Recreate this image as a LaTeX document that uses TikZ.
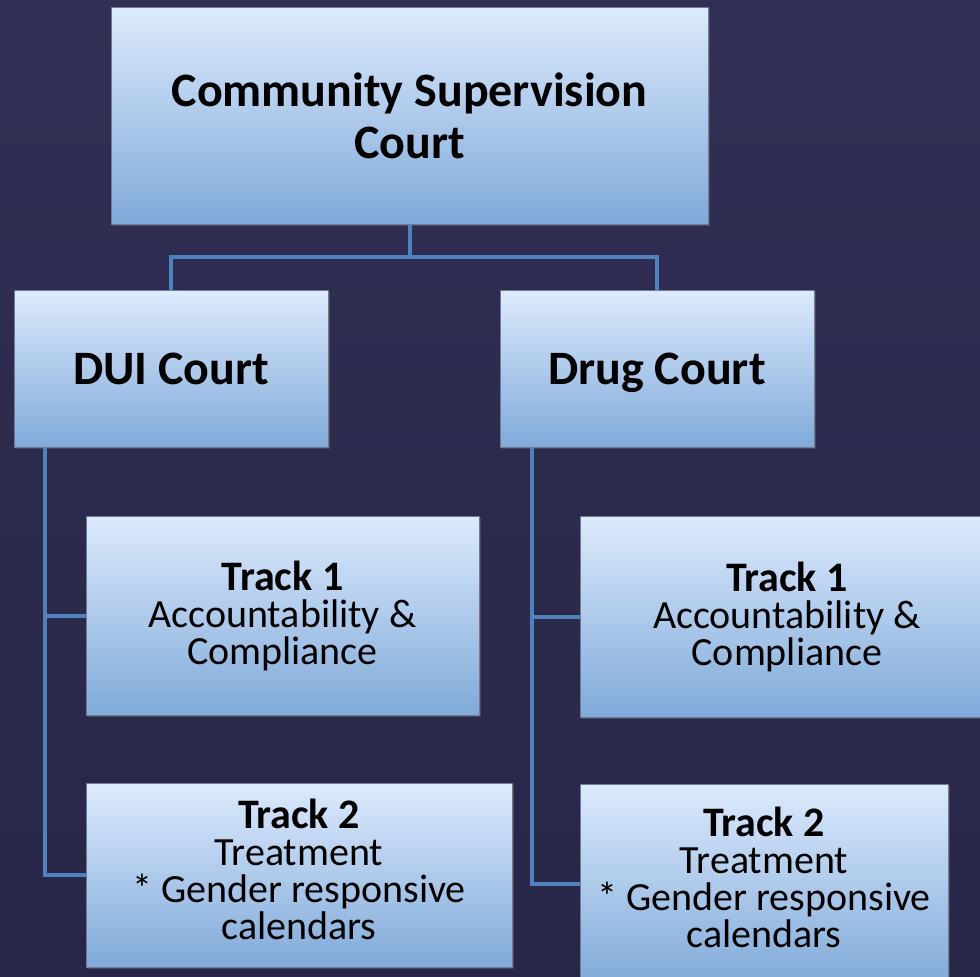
\documentclass[tikz,border=0pt]{standalone}
\usepackage{fontspec}
\setmainfont{Carlito}
\usetikzlibrary{shadows}

\definecolor{bgtop}{RGB}{49,48,84}
\definecolor{bgbottom}{RGB}{39,38,72}
\definecolor{boxtop}{RGB}{221,234,253}
\definecolor{boxbottom}{RGB}{128,170,217}
\definecolor{boxedge}{RGB}{112,122,146}
\definecolor{linkblue}{RGB}{79,129,189}

\newcommand{\trackname}[1]{{\fontsize{42}{37}\selectfont\bfseries #1}}

\begin{document}
\begin{tikzpicture}[x=1pt,y=-1pt,
  box/.style={draw=boxedge, line width=0.8pt, top color=boxtop, bottom color=boxbottom,
    align=center, inner sep=0pt,
    drop shadow={shadow xshift=2pt, shadow yshift=-2pt, opacity=0.35}},
  court/.style={box, font=\fontsize{48}{52}\selectfont\bfseries},
  track/.style={box, font=\fontsize{40}{37}\selectfont},
  link/.style={draw=linkblue, line width=4pt}]
  \clip (0,0) rectangle (980,977);
  \shade[top color=bgtop, bottom color=bgbottom] (0,0) rectangle (980,977);

  % courts
  \node[court, minimum width=597pt, minimum height=217pt] (csc) at (409.5,115.5) {Community Supervision\\Court};
  \node[court, minimum width=314pt, minimum height=157pt] (dui) at (171,368.5) {DUI Court};
  \node[court, minimum width=314pt, minimum height=157pt, text depth=0pt] (drug) at (657,368.5) {Drug Court};

  % tracks
  \node[track, minimum width=393pt, minimum height=199pt] (duione) at (282.5,615.5)
    {\trackname{Track 1}\\Accountability \&\\Compliance};
  \node[track, minimum width=426pt, minimum height=184pt] (duitwo) at (299,875)
    {\trackname{Track 2}\\Treatment\\* Gender responsive\\calendars\\[-25pt]\mbox{}};
  \node[track, minimum width=414pt, minimum height=201pt] (drugone) at (787,616.5)
    {\trackname{Track 1}\\Accountability \&\\Compliance};
  \node[track, minimum width=368pt, minimum height=200pt] (drugtwo) at (764,884)
    {\trackname{Track 2}\\Treatment\\* Gender responsive\\calendars\\[-23pt]\mbox{}};

  \coordinate (split) at ([yshift=-33pt]csc.south);
  \coordinate (duiline) at ([xshift=31pt]dui.south west);
  \coordinate (drugline) at ([xshift=32pt]drug.south west);

  \draw[link] (csc.south) -- (split);
  \draw[link] (split) -| (dui.north);
  \draw[link] (split) -| (drug.north);
  \draw[link] (duiline) |- (duione.west);
  \draw[link] (duiline) |- (duitwo.west);
  \draw[link] (drugline) |- (drugone.west);
  \draw[link] (drugline) |- (drugtwo.west);
\end{tikzpicture}
\end{document}
